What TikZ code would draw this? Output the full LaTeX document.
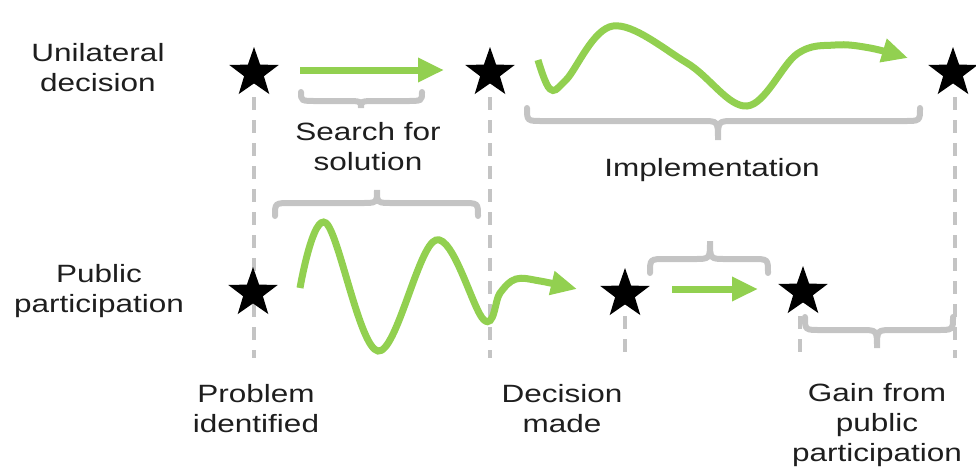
\documentclass[tikz,border=0pt]{standalone}
\usepackage{fontspec}
\setmainfont{Liberation Sans}[FakeStretch=1.26]
\usetikzlibrary{shapes.geometric,arrows.meta}
\definecolor{grn}{RGB}{146,208,80}
\definecolor{gry}{RGB}{196,196,196}
\definecolor{txt}{RGB}{30,30,30}
\newcommand{\mybrace}[6]{% x1 x2 xm yend yh ytip
  \draw[brc] (#1,#4) .. controls (#1,#5) .. (#1+16,#5) -- (#3-16,#5) .. controls (#3,#5) .. (#3,#6)
    .. controls (#3,#5) .. (#3+16,#5) -- (#2-16,#5) .. controls (#2,#5) .. (#2,#4);}
\begin{document}
\begin{tikzpicture}[x=1pt,y=-1pt,
  starnode/.style={star, star points=5, star point ratio=2.5, fill=black, minimum size=52pt, inner sep=0pt},
  dsh/.style={draw=gry, line width=4pt, dash pattern=on 13pt off 10pt},
  garrow/.style={draw=grn, line width=7pt, -{Triangle[length=26pt,width=23pt]}},
  brc/.style={draw=gry, line width=6pt, line cap=round},
  lbl/.style={align=center, text=txt, font=\fontsize{25}{30}\selectfont, inner sep=0pt}]
\path[use as bounding box] (0,0) rectangle (976,467);
% dashed guides (drawn first, behind the stars)
\coordinate (d1t) at (254,97);
\coordinate (d1) at (254,358);
\coordinate (d2t) at (490,97);
\coordinate (d2) at (490,358);
\coordinate (d3t) at (955,97);
\coordinate (d3) at (955,358);
\coordinate (d4t) at (625,316);
\coordinate (d4) at (625,358);
\coordinate (d5t) at (800,316);
\coordinate (d5) at (800,358);
\draw[dsh] (d1t) -- (d1);
\draw[dsh] (d2t) -- (d2);
\draw[dsh] (d3t) -- (d3);
\draw[dsh] (d4t) -- (d4);
\draw[dsh] (d5t) -- (d5);
% stars
\node[starnode] (s1) at (254,73) {};
\node[starnode] (s2) at (490,73) {};
\node[starnode] (s3) at (953,73) {};
\node[starnode] (b1) at (253,293) {};
\node[starnode] (b2) at (625,294) {};
\node[starnode] (b3) at (803,292) {};
% top straight arrow
\coordinate (a1s) at (300,70);
\coordinate (a1e) at (444,70);
\draw[garrow] (a1s) -- (a1e);
% top wavy arrow
\draw[garrow] plot[smooth, tension=0.6] coordinates {(538,60) (550,89) (566,80) (613,26) (687,63) (747,106) (797,54) (835,45) (870,48) (908,58)};
% bottom wavy arrow
\draw[garrow] plot[smooth, tension=0.6] coordinates {(300,288) (326,223) (378,351) (436,240) (484,320) (500,293) (516,279) (540,281) (577,289)};
% bottom straight arrow
\coordinate (a2s) at (672,289);
\coordinate (a2e) at (758,289);
\draw[garrow] (a2s) -- (a2e);
% braces
\mybrace{301}{422}{361}{92}{101}{108}
\mybrace{527}{920}{718}{108}{121}{140}
\mybrace{275}{478}{377}{216}{203}{190}
\mybrace{650}{768}{710}{273}{259}{241}
\mybrace{805}{953}{877}{317}{330}{348}
% labels
\node[lbl] (l1) at (98,68) {Unilateral\\decision};
\node[lbl] (l2) at (99,291) {Public\\participation};
\node[lbl] (l3) at (368,147) {Search for\\solution};
\node[lbl] (l4) at (712,170) {Implementation};
\node[lbl] (l5) at (256,409) {Problem\\identified};
\node[lbl] (l6) at (562,409) {Decision\\made};
\node[lbl] (l7) at (877,425) {Gain from\\public\\participation};
\end{tikzpicture}
\end{document}
